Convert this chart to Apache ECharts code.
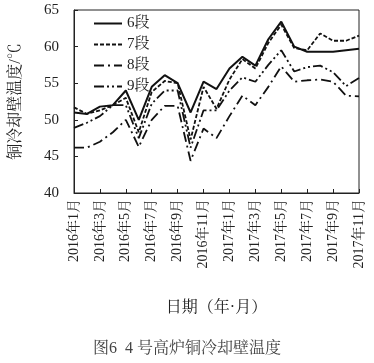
<!DOCTYPE html>
<html><head><meta charset="utf-8">
<script src="https://cdn.jsdelivr.net/npm/echarts@6/dist/echarts.min.js"></script>
<style>html,body{margin:0;padding:0;background:#fff}#c{width:374px;height:363px}</style>
</head><body><div id="c"></div>
<script>
var months = ["2016年1月","2016年2月","2016年3月","2016年4月","2016年5月","2016年6月","2016年7月","2016年8月","2016年9月","2016年10月","2016年11月","2016年12月",
"2017年1月","2017年2月","2017年3月","2017年4月","2017年5月","2017年6月","2017年7月","2017年8月","2017年9月","2017年10月","2017年11月"];
var s6 = [51.0,50.8,51.8,52.0,54.0,50.0,54.5,56.1,55.0,51.0,55.2,54.2,57.0,58.6,57.4,61.0,63.4,60.0,59.3,59.3,59.3,59.5,59.7];
var s7 = [51.7,50.8,51.3,52.0,53.0,48.3,53.8,55.3,55.0,47.3,54.5,51.5,55.5,58.3,57.0,60.5,63.0,59.8,59.5,61.8,60.8,60.8,61.5];
var s8 = [46.2,46.2,47.0,48.3,50.0,46.3,50.0,51.9,51.9,44.4,48.8,47.5,50.5,53.3,52.0,54.5,57.3,55.2,55.4,55.5,55.2,53.3,53.2];
var s9 = [48.9,49.6,50.5,52.0,52.0,47.5,52.2,54.0,54.0,46.2,51.3,51.3,54.0,55.8,55.2,57.5,59.5,56.6,57.2,57.4,56.5,54.6,55.7];
var names = ["6段","7段","8段","9段"];
var yTicks = {min:40, max:65, step:5};
var xName = "日期（年·月）";
var yName = "铜冷却壁温度/℃";
var caption = "图6  4 号高炉铜冷却壁温度";

var serif = "'Liberation Serif','Noto Serif CJK SC','Noto Sans CJK SC',serif";
var chart = echarts.init(document.getElementById('c'));
function ser(name, data, type, w){
  return {name:name, type:'line', data:data, symbol:'none', animation:false,
    itemStyle:{color:'#111'},
    lineStyle:{color:'#111', width:w, type:type}};
}
chart.setOption({
  animation:false,
  grid:{left:69, right:15, top:10, bottom:170, show:true, borderColor:'#222', borderWidth:1},
  legend:{orient:'vertical', left:88, top:11, itemWidth:28, itemHeight:12, itemGap:6,
    itemStyle:{opacity:0, borderWidth:0},
    textStyle:{fontFamily:serif, fontSize:15, color:'#222'},
    data:names},
  xAxis:{type:'category', data:months, boundaryGap:false,
    axisLine:{lineStyle:{color:'#222'}},
    axisTick:{inside:true, interval:1, length:4, lineStyle:{color:'#222'}},
    axisLabel:{interval:1, rotate:90, fontFamily:serif, fontSize:14, color:'#222', margin:6},
    name:xName, nameLocation:'middle', nameGap:107,
    nameTextStyle:{fontFamily:serif, fontSize:16, color:'#222'}},
  yAxis:{type:'value', min:yTicks.min, max:yTicks.max, interval:yTicks.step,
    axisLine:{show:true, lineStyle:{color:'#222'}},
    axisTick:{show:true, inside:true, length:4, lineStyle:{color:'#222'}},
    splitLine:{show:false},
    axisLabel:{fontFamily:serif, fontSize:15, color:'#222', margin:15},
    name:yName, nameLocation:'middle', nameGap:50, nameRotate:90,
    nameTextStyle:{fontFamily:serif, fontSize:16, color:'#222'}},
  title:{text:caption, left:'center', top:336,
    textStyle:{fontFamily:serif, fontSize:16, fontWeight:'normal', color:'#444'}},
  series:[
    ser(names[0], s6, 'solid', 2),
    ser(names[1], s7, [4,2], 1.8),
    ser(names[2], s8, [10,4,2,4], 1.8),
    ser(names[3], s9, [10,3,2,3,2,3], 1.8)
  ]
});
</script></body></html>
